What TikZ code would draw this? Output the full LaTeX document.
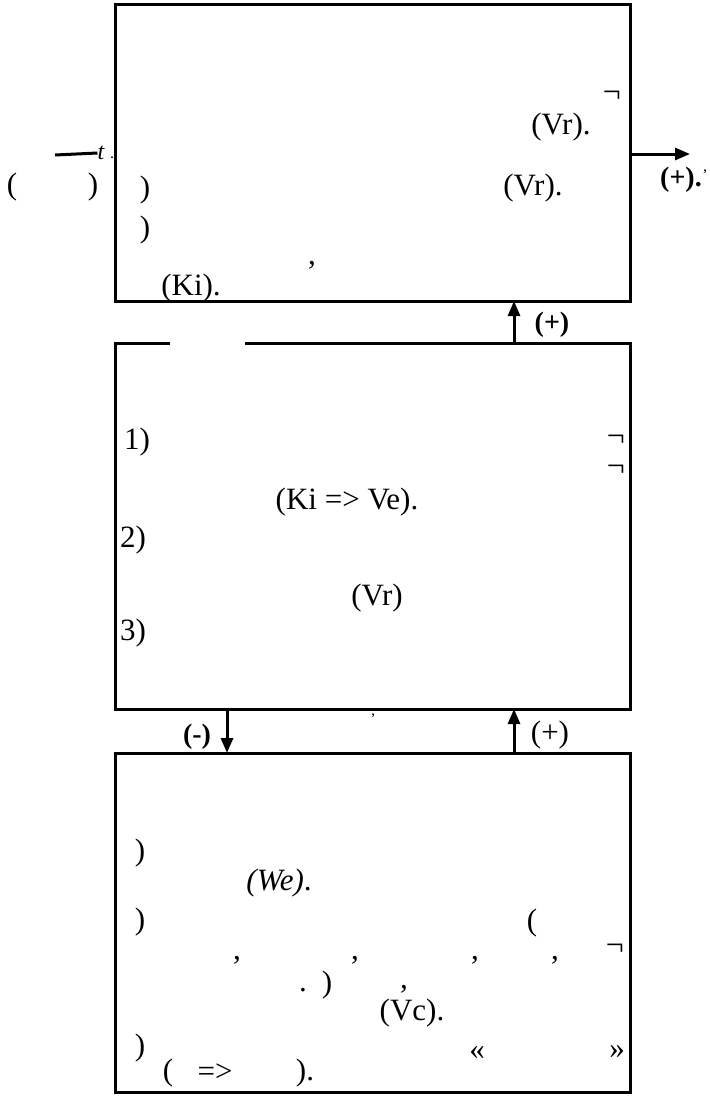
\documentclass[tikz,border=0pt]{standalone}
\usepackage{fontspec}
\setmainfont{Liberation Serif}
\usetikzlibrary{arrows.meta,calc}
\begin{document}
\begin{tikzpicture}[x=1pt,y=-1pt,
  box/.style={draw=none,minimum width=515pt,minimum height=#1,inner sep=0pt,outer sep=0pt},
  frame/.style={line width=3pt},
  txt/.style={inner sep=0pt,font=\fontsize{31}{36}\selectfont},
  notsign/.style={inner sep=0pt,font=\fontsize{32}{36}\selectfont},
  lbl/.style={inner sep=0pt,font=\fontsize{28}{32}\selectfont\bfseries},
  small/.style={inner sep=0pt,font=\fontsize{16}{18}\selectfont},
  arr/.style={line width=3pt,-{Triangle[width=12pt,length=15pt]}}]
\useasboundingbox (0,0) rectangle (710,1096);

% boxes
\node[box=297pt] (b1) at (372.5,152.5) {};
\node[box=366pt] (b2) at (372.5,526) {};
\node[box=339pt] (b3) at (372.5,922.5) {};
\draw[frame] (b1.north west) rectangle (b1.south east);
\draw[frame] ($(b2.north west)+(55,0)$) -- (b2.north west) -- (b2.south west)
  -- (b2.south east) -- (b2.north east) -- ($(b2.north west)+(130,0)$);
\draw[frame] (b3.north west) rectangle (b3.south east);

% connectors
\coordinate (ax) at (514,0);
\coordinate (dx) at (227,0);
\coordinate (out) at (690,154);
\coordinate (inA) at (55,155);
\draw[arr] (b2.north -| ax) -- (b1.south -| ax);
\draw[arr] (b3.north -| ax) -- (b2.south -| ax);
\draw[arr] (b2.south -| dx) -- (b3.north -| dx);
\draw[arr] (b1.east |- out) -- (out);
\node[inner sep=0pt,font=\fontsize{24}{28}\selectfont\itshape] (t) at (101,153) {t};
\draw[line width=3pt] (inA) -- (t.west);
\node[small] (tdot) at (112,158) {.};

% labels on connectors
\node[lbl] (p1) at (552,325) {(+)};
\node[lbl] (m1) at (197,737) {(-)};
\node[txt] (p2) at (550,735) {(+)};
\node[lbl] (p0) at (681,180) {(+).};
\node[small] (q0) at (705,175) {'};
\node[small] (q1) at (373,719) {'};

% box 1 texts
\node[txt] at (12,187) {(};
\node[txt] at (93,187) {)};
\node[txt] at (145,190) {)};
\node[txt] at (145,230) {)};
\node[txt] at (312,265) {,};
\node[txt] at (191,288) {(Ki).};
\node[txt] at (561,127) {(Vr).};
\node[txt] at (533,188) {(Vr).};
\node[notsign] at (612,97) {¬};

% box 2 texts
\node[txt] at (137,442) {1)};
\node[txt] at (347,502) {(Ki => Ve).};
\node[txt] at (133,540) {2)};
\node[txt] at (377,598) {(Vr)};
\node[txt] at (133,633) {3)};
\node[notsign] at (616,441) {¬};
\node[notsign] at (616,471) {¬};

% box 3 texts
\node[txt] at (140,853) {)};
\node[txt] at (279,883) {\textit{(We)}.};
\node[txt] at (140,922) {)};
\node[txt] at (532,923) {(};
\node[txt] at (237,960) {,};
\node[txt] at (355,960) {,};
\node[txt] at (475,960) {,};
\node[txt] at (555,960) {,};
\node[notsign] at (615,950) {¬};
\node[txt] at (303,990) {.};
\node[txt] at (327,985) {)};
\node[txt] at (404,989) {,};
\node[txt] at (412,1013) {(Vc).};
\node[txt] at (140,1048) {)};
\node[txt] at (477,1053) {«};
\node[txt] at (617,1052) {»};
\node[txt] at (168,1073) {(};
\node[txt] at (215,1073) {=>};
\node[txt] at (305,1073) {).};
\end{tikzpicture}
\end{document}
